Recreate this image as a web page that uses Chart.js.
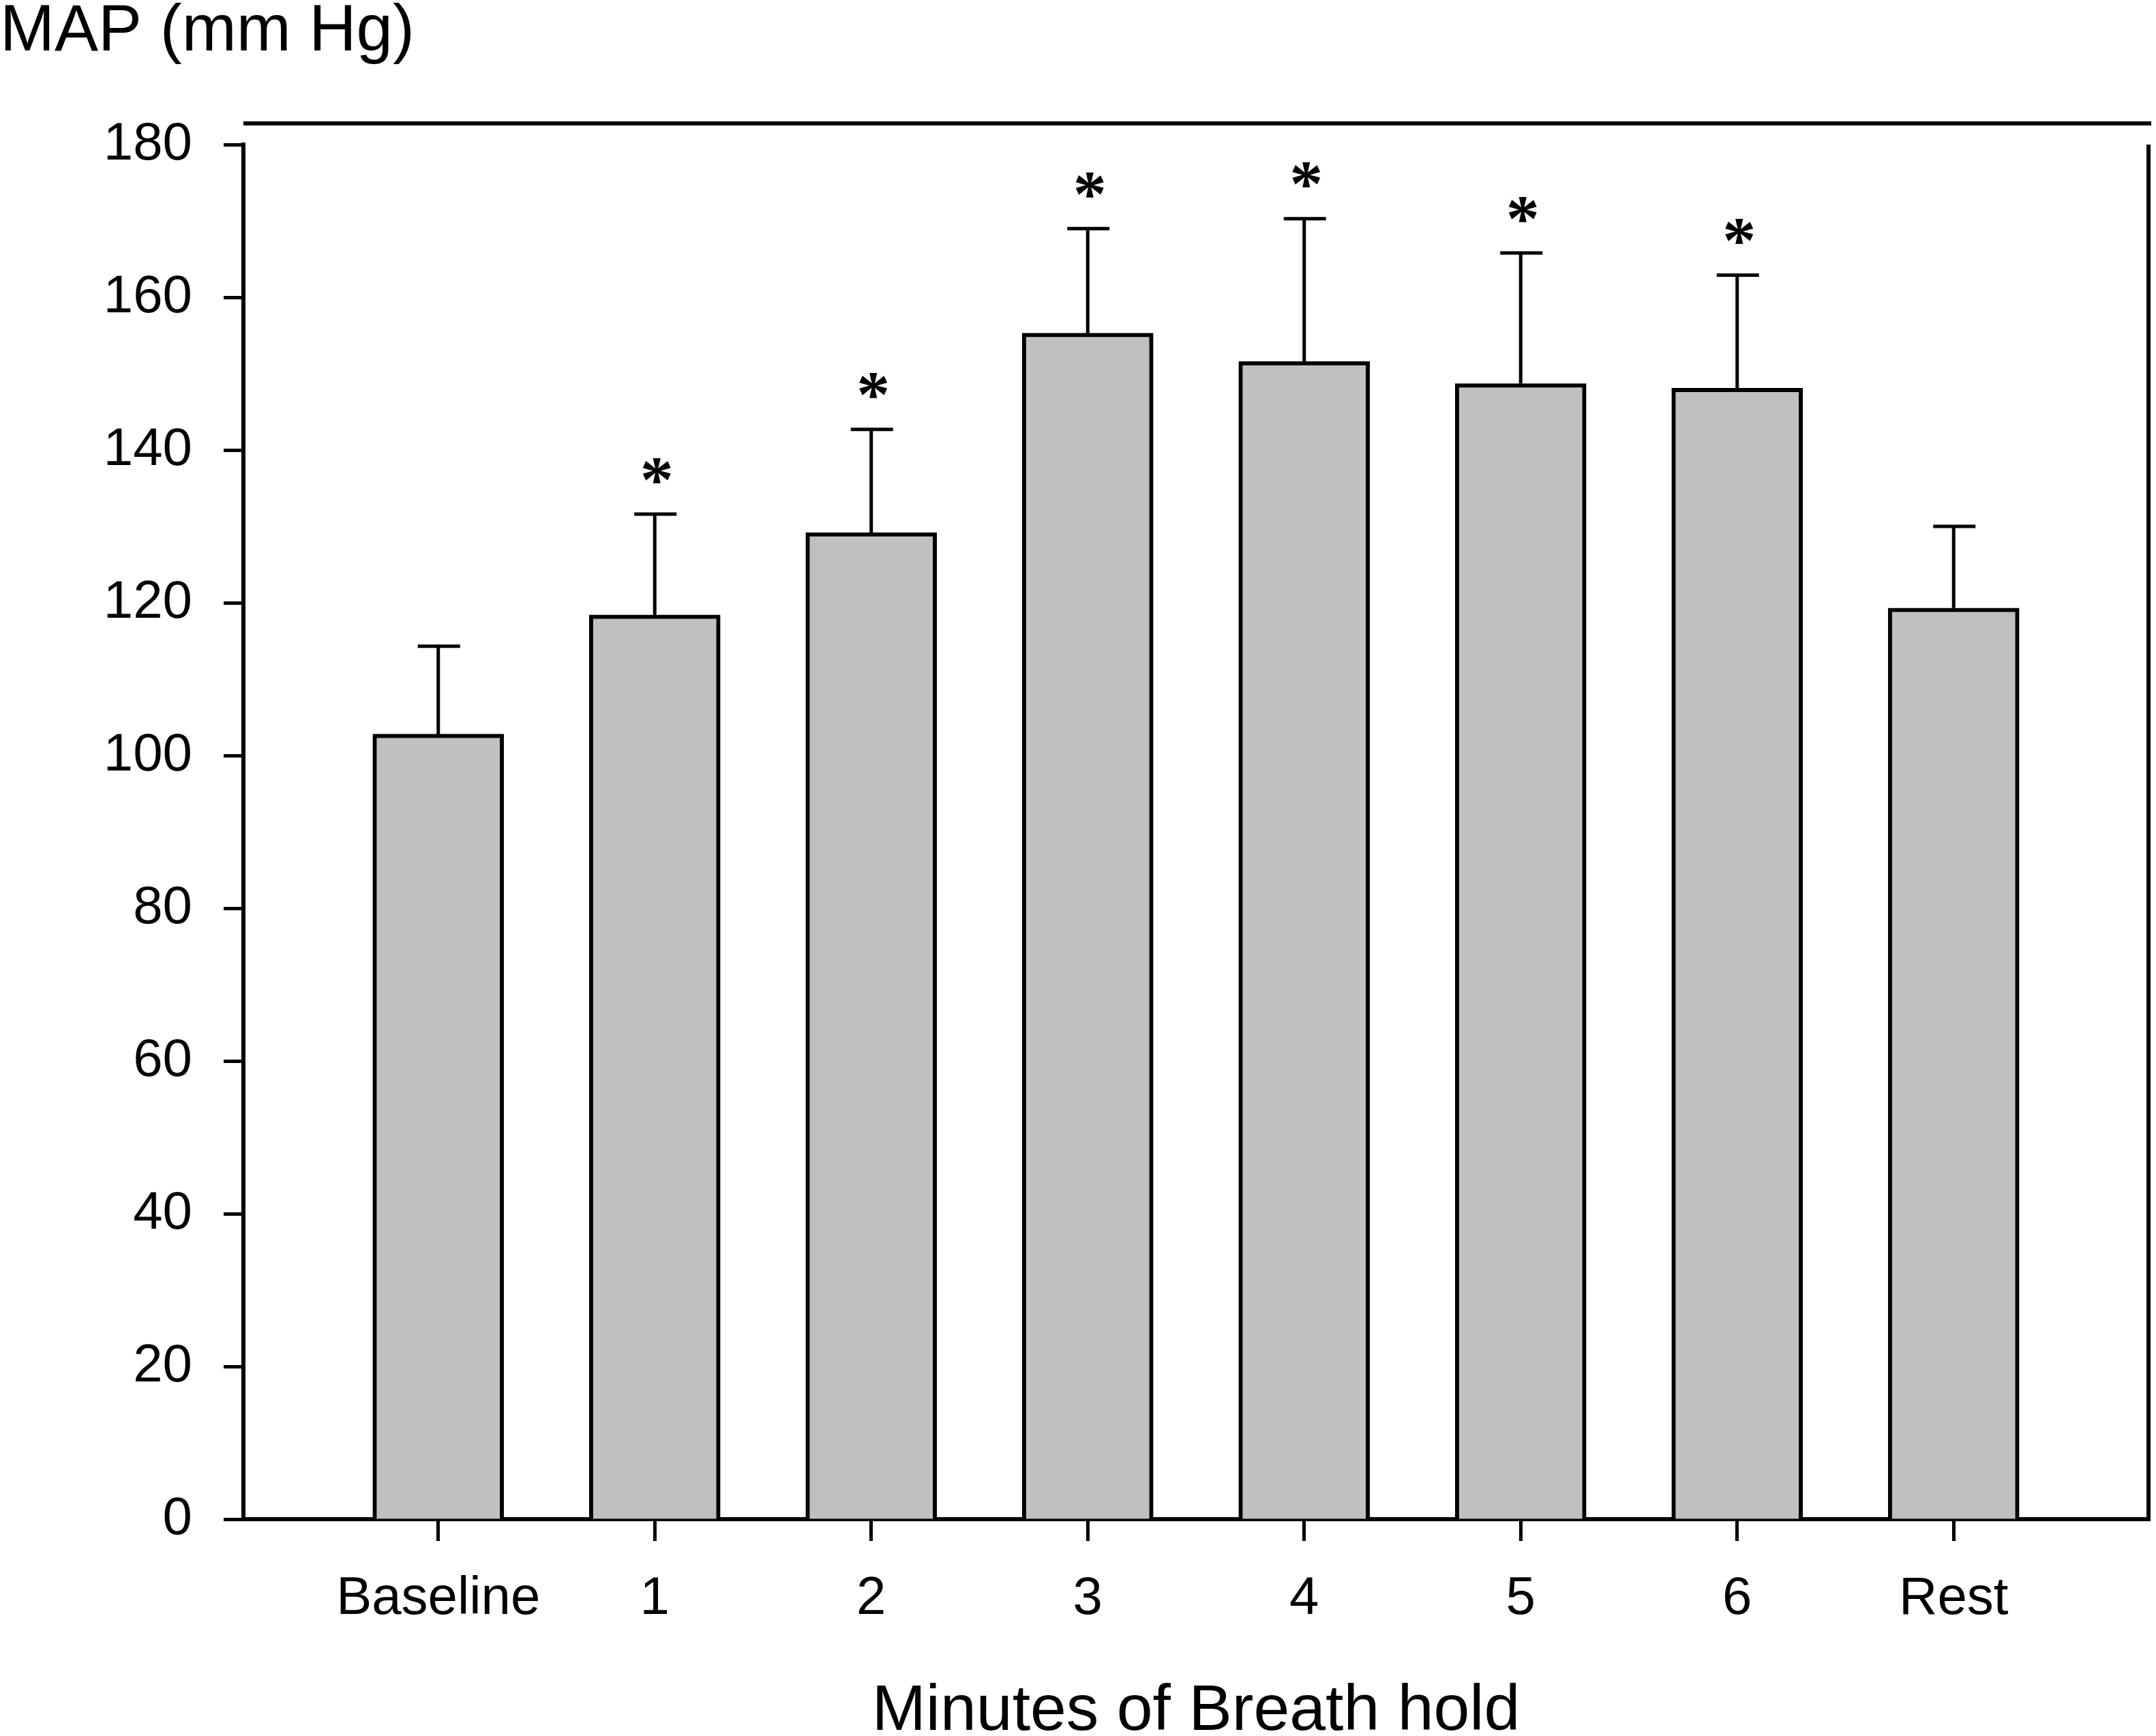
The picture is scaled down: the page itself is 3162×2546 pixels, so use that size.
<!DOCTYPE html>
<html>
<head>
<meta charset="utf-8">
<title>MAP during breath hold</title>
<script src="https://cdn.jsdelivr.net/npm/chart.js@4.4.1/dist/chart.umd.min.js"></script>
<style>
    html, body { margin: 0; padding: 0; background: #fff; }
    canvas { display: block; }
</style>
</head>
<body>
<canvas id="mapChart" width="3162" height="2546"></canvas>
<script>
// data
const categories = ["Baseline", "1", "2", "3", "4", "5", "6", "Rest"];
const meanMAP = [102.8, 118.4, 129.2, 155.3, 151.6, 148.7, 148.1, 119.3];
const upperError = [114.3, 131.6, 142.7, 169.0, 170.3, 165.8, 162.9, 130.0];
const significant = [false, true, true, true, true, true, true, false];
const yTicks = [0, 20, 40, 60, 80, 100, 120, 140, 160, 180];

// error bars + asterisks + frame lines
const extrasPlugin = {
    id: "extras",
    afterDatasetsDraw(chart) {
        const ctx = chart.ctx;
        const x = chart.scales.x;
        const y = chart.scales.y;
        const area = chart.chartArea;

        ctx.save();
        ctx.strokeStyle = "#000";
        ctx.lineCap = "butt";

        for (let i = 0; i < meanMAP.length; i++) {
            const px = x.getPixelForValue(i);
            const yBar = y.getPixelForValue(meanMAP[i]);
            const yTop = y.getPixelForValue(upperError[i]);

            ctx.lineWidth = 5;
            ctx.beginPath();
            ctx.moveTo(px, yBar);
            ctx.lineTo(px, yTop);
            ctx.moveTo(px - 30, yTop);
            ctx.lineTo(px + 32, yTop);
            ctx.stroke();

            if (significant[i]) {
                ctx.font = "bold 98px 'Liberation Serif'";
                ctx.fillStyle = "#000";
                ctx.textAlign = "center";
                ctx.textBaseline = "alphabetic";
                const m = ctx.measureText("*");
                // put the ink centre of the star about 64px above the cap
                const inkMid = (m.actualBoundingBoxAscent - m.actualBoundingBoxDescent) / 2;
                ctx.fillText("*", px + 3, yTop - 64 + inkMid);
            }
        }

        // right frame line and the detached top line
        ctx.lineWidth = 6;
        ctx.beginPath();
        ctx.moveTo(area.right, area.top);
        ctx.lineTo(area.right, area.bottom + 3);
        ctx.moveTo(area.left, 181);
        ctx.lineTo(area.right + 4, 181);
        ctx.stroke();
        ctx.restore();
    }
};

const ctx = document.getElementById("mapChart").getContext("2d");
const mapChart = new Chart(ctx, {
    type: "bar",
    data: {
        datasets: [
            {
                label: "MAP",
                data: meanMAP.map((v, i) => ({ x: i, y: v })),
                backgroundColor: "#c0c0c0",
                borderColor: "#000",
                borderWidth: 6,
                borderSkipped: "bottom",
                barThickness: 192,
            },
        ],
    },
    options: {
        responsive: false,
        devicePixelRatio: 1,
        animation: false,
        layout: {
            padding: { left: 0, right: 11, top: 0, bottom: 0 },
        },
        plugins: {
            legend: { display: false },
            tooltip: { enabled: false },
            title: {
                display: true,
                text: "MAP (mm Hg)",
                align: "start",
                color: "#000",
                font: { family: "'Liberation Sans', Arial", size: 96, weight: "normal", lineHeight: 1 },
                padding: { top: 0, bottom: 116 },
            },
        },
        scales: {
            x: {
                type: "linear",
                min: -0.9,
                max: 7.9,
                offset: false,
                afterFit(scale) {
                    scale.height = 318;
                },
                ticks: {
                    stepSize: 1,
                    includeBounds: false,
                    autoSkip: false,
                    maxRotation: 0,
                    padding: 39,
                    color: "#000",
                    font: { family: "'Liberation Sans', Arial", size: 78 },
                    callback: (value) => categories[value] ?? "",
                },
                grid: {
                    offset: false,
                    drawOnChartArea: false,
                    drawTicks: true,
                    tickLength: 32,
                    tickWidth: 5,
                    tickColor: "#000",
                },
                border: { display: true, color: "#000", width: 6 },
                title: {
                    display: true,
                    text: "Minutes of Breath hold",
                    color: "#000",
                    font: { family: "'Liberation Sans', Arial", size: 95, lineHeight: 1 },
                    padding: { top: 0, bottom: -12 },
                },
            },
            y: {
                min: 0,
                max: 180,
                afterFit(scale) {
                    scale.width = 357;
                },
                afterBuildTicks(scale) {
                    scale.ticks = yTicks.map((v) => ({ value: v }));
                },
                ticks: {
                    padding: 46,
                    color: "#000",
                    font: { family: "'Liberation Sans', Arial", size: 78 },
                },
                grid: {
                    drawOnChartArea: false,
                    drawTicks: true,
                    tickLength: 29,
                    tickWidth: 5,
                    tickColor: "#000",
                },
                border: { display: true, color: "#000", width: 6 },
            },
        },
    },
    plugins: [extrasPlugin],
});
</script>
</body>
</html>
